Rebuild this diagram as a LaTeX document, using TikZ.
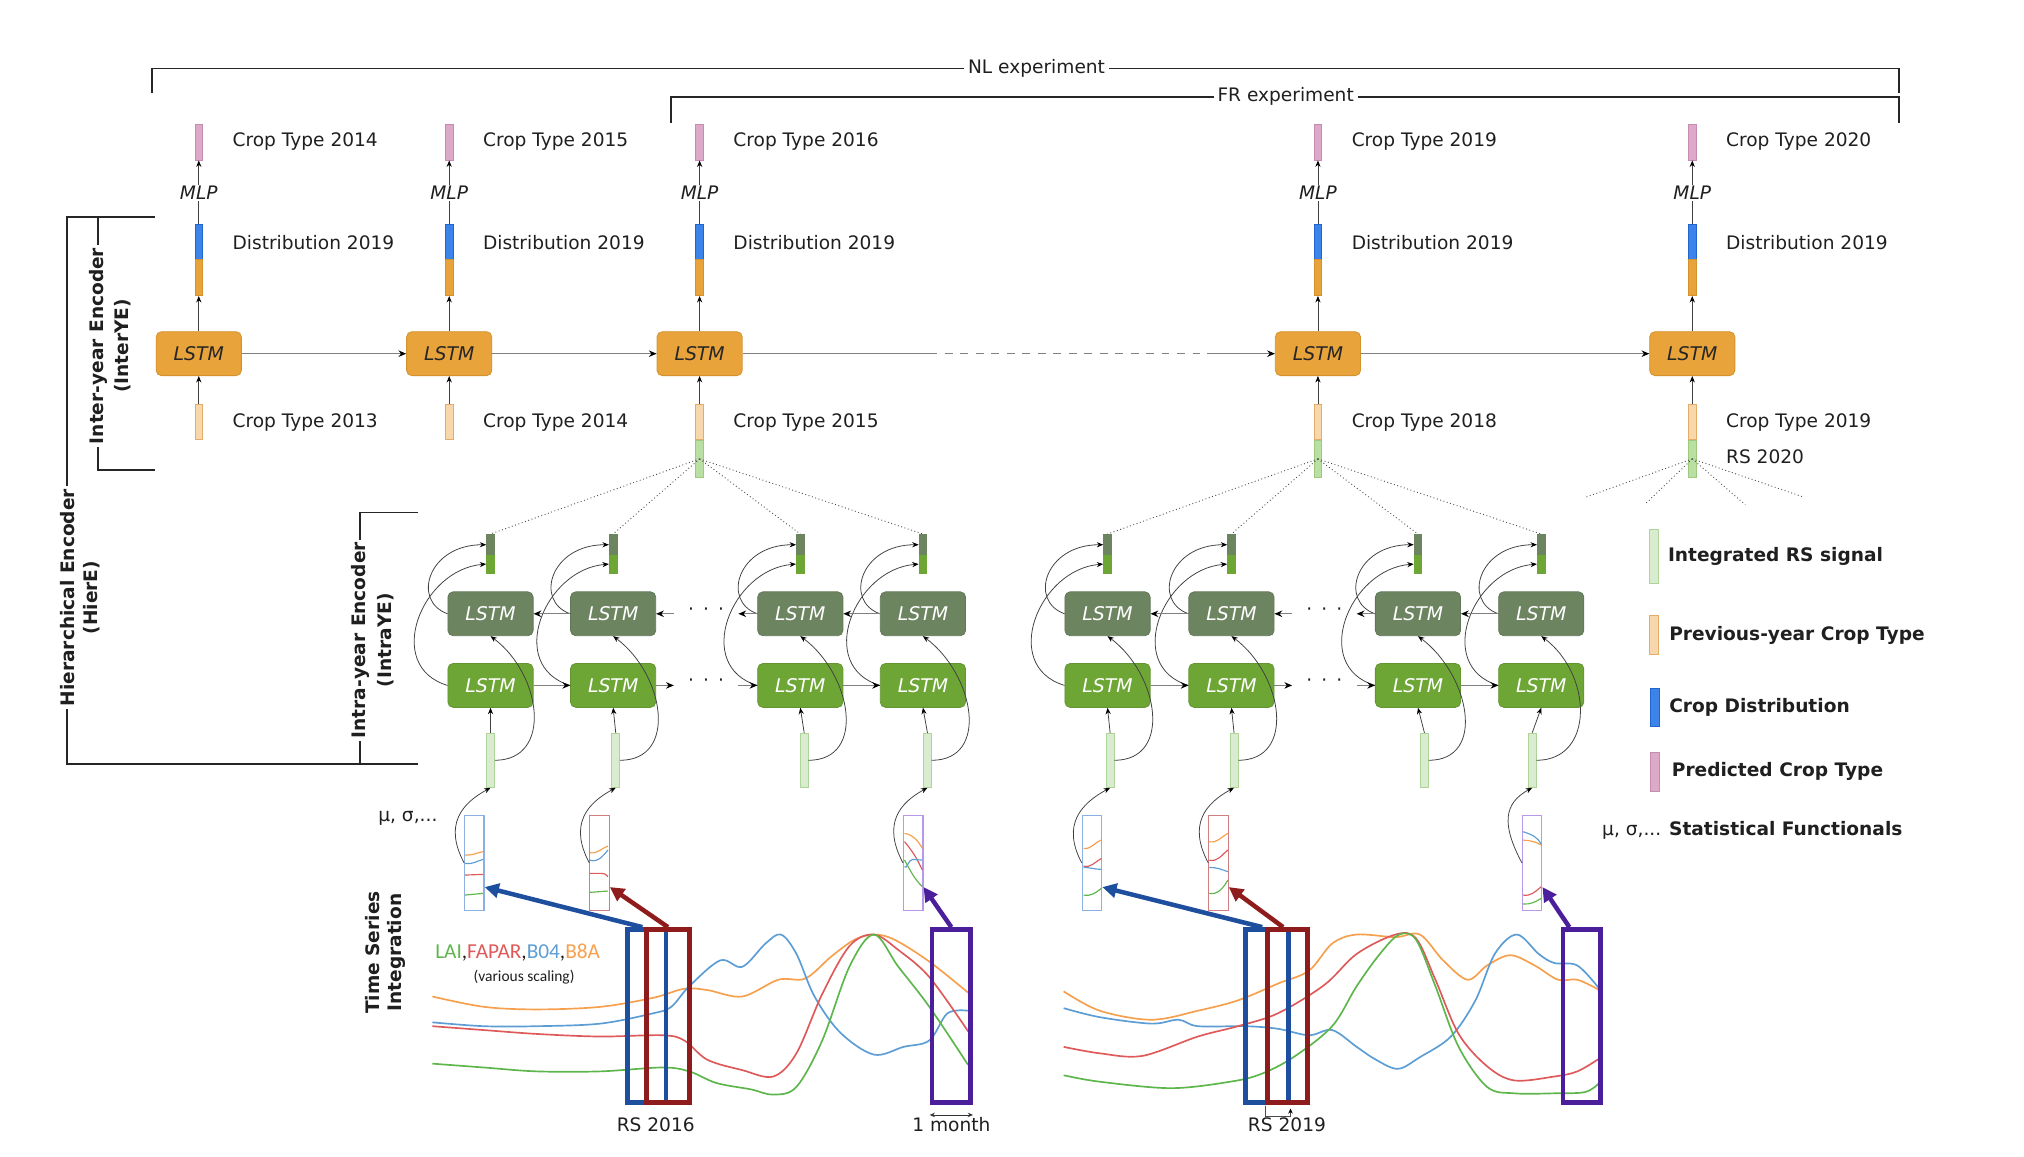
\documentclass[tikz,border=0pt]{standalone}
\usepackage{fontspec}
\setmainfont{DejaVu Sans}
\newfontfamily\calibfont{Carlito}
\usetikzlibrary{arrows.meta,calc}
\definecolor{lorange}{HTML}{E8A33B}
\definecolor{lorangeD}{HTML}{D4922E}
\definecolor{pinkF}{HTML}{DDA9C8}
\definecolor{pinkD}{HTML}{C58BB0}
\definecolor{blueF}{HTML}{3D84EA}
\definecolor{blueD}{HTML}{2563CF}
\definecolor{paleoF}{HTML}{F8D7AC}
\definecolor{paleoD}{HTML}{E5AC69}
\definecolor{rsF}{HTML}{BADFA3}
\definecolor{rsD}{HTML}{9CCB80}
\definecolor{inF}{HTML}{D9ECCF}
\definecolor{inD}{HTML}{AED49A}
\definecolor{dkg}{HTML}{6D8461}
\definecolor{brg}{HTML}{6EA636}
\definecolor{cO}{HTML}{F6A04D}
\definecolor{cB}{HTML}{5C9DD5}
\definecolor{cR}{HTML}{DE5A5A}
\definecolor{cG}{HTML}{5DB64C}
\definecolor{tB}{HTML}{1E4E9E}
\definecolor{tR}{HTML}{8E1C1C}
\definecolor{tP}{HTML}{4B1F9C}
\definecolor{sB}{HTML}{8CB0E2}
\definecolor{sR}{HTML}{D27E7E}
\definecolor{sP}{HTML}{B898E8}
\begin{document}
\begin{tikzpicture}[x=1pt,y=-1pt,
  every node/.style={inner sep=0pt, font=\fontsize{14.4}{17}\selectfont, text=black!88},
  bar/.style={rectangle, minimum width=6pt, line width=0.6pt},
  pinkbar/.style={bar, fill=pinkF, draw=pinkD, minimum height=28pt},
  bluebar/.style={bar, fill=blueF, draw=blueD, minimum height=27pt},
  orbar/.style={bar, fill=lorange, draw=lorangeD, minimum height=28pt},
  palebar/.style={bar, fill=paleoF, draw=paleoD, minimum height=27pt},
  rsbar/.style={bar, fill=rsF, draw=rsD, minimum height=29pt},
  inbar/.style={bar, fill=inF, draw=inD, minimum height=42pt},
  otop/.style={bar, fill=dkg, draw=dkg, minimum height=16pt},
  obot/.style={bar, fill=brg, draw=brg, minimum height=14pt},
  lstmbox/.style={rectangle, rounded corners=4pt, minimum width=66pt, minimum height=34pt, font=\fontsize{14.6}{17}\selectfont\itshape, line width=0.6pt},
  lstmO/.style={lstmbox, fill=lorange, draw=lorangeD, text=black!85},
  lstmD/.style={lstmbox, fill=dkg, draw=dkg!90!black, text=white},
  lstmG/.style={lstmbox, fill=brg, draw=brg!90!black, text=white},
  arr/.style={draw=black!75, line width=0.6pt, -{Stealth[length=5pt,width=4pt,color=black]}},
  harr/.style={draw=black!50, line width=1.1pt, -{Stealth[length=6pt,width=5pt,color=black]}},
  gline/.style={draw=black!50, line width=1.1pt},
  fan/.style={draw=black!70, line width=0.7pt, dotted},
  lbl/.style={anchor=west},
  blbl/.style={anchor=west, font=\fontsize{14.4}{17}\selectfont\bfseries},
  brk/.style={draw=black!85, line width=1.3pt},
  vlab/.style={rotate=90, font=\fontsize{14.4}{17}\selectfont\bfseries},
  statr/.style={rectangle, minimum width=15pt, minimum height=74pt, line width=0.9pt},
  bigr/.style={rectangle, minimum height=134pt, line width=3.5pt},
  tarr/.style={line width=3.5pt, -{Triangle[length=11pt,width=11pt]}},
  ts/.style={line width=1.3pt},
  mini/.style={line width=0.9pt},
]
\useasboundingbox (0,0) rectangle (1568,896);

% ---------- experiment brackets ----------
\draw[brk] (118,72) -- (118,53) -- (1471,53) -- (1471,72);
\node[fill=white, inner sep=3pt] (nl) at (803,53) {NL experiment};
\draw[brk] (520,95) -- (520,75) -- (1471,75) -- (1471,95);
\node[fill=white, inner sep=3pt] (fr) at (996,75) {FR experiment};

% ---------- left brackets ----------
\draw[brk] (120,168) -- (52,168) -- (52,592) -- (324,592);
\draw[brk] (76,168) -- (76,364) -- (120,364);
\draw[brk] (324,397) -- (279,397) -- (279,592);
\node[vlab, fill=white, inner sep=2pt] (hl1) at (52,463) {Hierarchical Encoder};
\node[vlab] (hl2) at (71,463) {(HierE)};
\node[vlab, fill=white, inner sep=2pt] (il1) at (76,268) {Inter-year Encoder};
\node[vlab] (il2) at (95,268) {(InterYE)};
\node[vlab, fill=white, inner sep=2pt] (al1) at (279,496) {Intra-year Encoder};
\node[vlab] (al2) at (299,496) {(IntraYE)};
\node[vlab] (ts1) at (289,738) {Time Series};
\node[vlab] (ts2) at (307,738) {Integration};

% ---------- inter-year encoder ----------
\foreach \i/\x/\t/\b in {1/154/2014/2013,2/348/2015/2014,3/542/2016/2015,4/1021/2019/2018,5/1311/2020/2019}{
  \node[pinkbar] (pk\i) at (\x,110) {};
  \node[font=\fontsize{14.4}{17}\selectfont\itshape, inner sep=1pt] (mlp\i) at (\x,149.5) {MLP};
  \node[bluebar] (bl\i) at (\x,187.5) {};
  \node[orbar] (or\i) at (\x,215) {};
  \node[lstmO] (L\i) at (\x,274) {LSTM};
  \node[palebar] (po\i) at (\x,327) {};
  \node[lbl] (tt\i) at (\x+26,110) {Crop Type \t};
  \node[lbl] (dt\i) at (\x+26,188) {Distribution 2019};
  \node[lbl] (bt\i) at (\x+26,327) {Crop Type \b};
  \draw[arr] (mlp\i.north) -- (pk\i.south);
  \draw[draw=black!75, line width=0.6pt] (bl\i.north) -- (mlp\i.south);
  \draw[arr] (L\i.north) -- (or\i.south);
  \draw[arr] (po\i.north) -- (L\i.south);
}
\foreach \i/\x in {3/542,4/1021,5/1311}{
  \node[rsbar] (gr\i) at (\x,355.5) {};
}
\node[lbl] (rs20) at (1337,354) {RS 2020};
\draw[harr] (L1) -- (L2);
\draw[harr] (L2) -- (L3);
\draw[harr] (L4) -- (L5);
\coordinate (d1) at (720,274);
\coordinate (d2) at (935,274);
\draw[gline] (L3.east) -- (d1);
\draw[gline, dashed, dash pattern=on 6pt off 6pt] (d1) -- (d2);
\draw[harr] (d2) -- (L4.west);

% ---------- intra-year encoder ----------
\foreach \g/\j/\cx/\ix in {a/1/380/380, a/2/475/477, a/3/620/623, a/4/715/718.5, b/1/858/860, b/2/954/956, b/3/1098.5/1103.5, b/4/1194/1187}{
  \node[otop] (ot\g\j) at (\cx,422) {};
  \node[obot] (ob\g\j) at (\cx,437) {};
  \node[lstmD] (D\g\j) at (\cx,475.5) {LSTM};
  \node[lstmG] (F\g\j) at (\cx,531) {LSTM};
  \node[inbar] (in\g\j) at (\ix,589) {};
}
\foreach \g/\j in {a/1,a/2,a/3,a/4,b/1,b/2,b/3,b/4}{
  \draw[arr] (in\g\j.north) -- (F\g\j.south);
  \draw[arr] (D\g\j.west) .. controls +(-28,-10) and +(-45,0) .. (ot\g\j.west);
  \draw[arr] (F\g\j.west) .. controls +(-50,-15) and +(-50,4) .. (ob\g\j.west);
  \draw[arr] (in\g\j.east) .. controls +(45,0) and +(40,30) .. (D\g\j.south);
}
\foreach \g/\p/\q/\m in {a/522/572/547, b/1001/1051/1026}{
  \coordinate (fg1\g) at (\p,531);
  \coordinate (fg2\g) at (\q,531);
  \coordinate (bg1\g) at (\p,475.5);
  \coordinate (bg2\g) at (\q,475.5);
  \node (fd\g) at (\m,529) {·\hspace{7pt}·\hspace{7pt}·};
  \node (bd\g) at (\m,473.5) {·\hspace{7pt}·\hspace{7pt}·};
  \draw[harr] (F\g1) -- (F\g2);
  \draw[harr] (F\g3) -- (F\g4);
  \draw[harr] (F\g2.east) -- (fg1\g);
  \draw[harr] (fg2\g) -- (F\g3.west);
  \draw[harr] (D\g2) -- (D\g1);
  \draw[harr] (D\g4) -- (D\g3);
  \draw[harr] (D\g3.west) -- (bg2\g);
  \draw[harr] (bg1\g) -- (D\g2.east);
}
% fans
\foreach \j in {1,2,3,4}{
  \draw[fan] (gr3.center) -- (ota\j.north);
  \draw[fan] (gr4.center) -- (otb\j.north);
}
\coordinate (f5a) at (1229,385);
\coordinate (f5b) at (1274,391);
\coordinate (f5c) at (1352,391);
\coordinate (f5d) at (1397,385);
\foreach \k in {a,b,c,d}{ \draw[fan] (gr5.center) -- (f5\k); }

% ---------- statistical functionals ----------
\foreach \g/\j/\sx/\col in {a/1/367.5/sB, a/2/464.5/sR, a/4/707.5/sP, b/1/846/sB, b/2/944/sR, b/4/1187/sP}{
  \node[statr, draw=\col] (S\g\j) at (\sx,668.5) {};
  \draw[arr] (S\g\j.west) .. controls +(-16,-30) and +(-22,12) .. (in\g\j.south);
}
\node (mu) at (316,634) {μ, σ,...};
% mini curves
\draw[mini,cO] (360.3,662.4) to[out=-5,in=190] (374.2,659.8);
\draw[mini,cB] (360.3,668.9) to[out=-10,in=195] (374.2,665.8);
\draw[mini,cR] (360.3,677.9) -- (374.2,677.4);
\draw[mini,cG] (360.3,693.4) -- (374.2,692.1);
\draw[mini,cO] (457,660.6) to[out=-10,in=200] (471,655.4);
\draw[mini,cB] (457,666.3) to[out=-20,in=230] (471,658.5);
\draw[mini,cR] (457,676.6) -- (466,676.6) to[out=0,in=120] (471,679.2);
\draw[mini,cG] (457,691.3) -- (471,690.3);
\draw[mini,cO] (700.7,645.6) to[out=-10,in=120] (714.5,657.2);
\draw[mini,cR] (700.7,652) to[out=-50,in=115] (714.5,674);
\draw[mini,cB] (700.7,671.4) to[out=-60,in=180] (707,665.8) -- (714.5,666.3);
\draw[mini,cG] (700.7,666.3) to[out=-60,in=135] (714.5,686.9);
\draw[mini,cO] (839.4,657.2) to[out=-10,in=200] (853.2,650.8);
\draw[mini,cR] (839.4,670.9) to[out=-15,in=210] (853.2,665);
\draw[mini,cB] (839.4,672) to[out=0,in=180] (853.2,673.5);
\draw[mini,cG] (839.4,693.4) to[out=-10,in=220] (853.2,688.2);
\draw[mini,cO] (936.8,652.1) to[out=-10,in=210] (951.2,645.6);
\draw[mini,cR] (936.8,666.3) to[out=-15,in=220] (951.2,658.5);
\draw[mini,cB] (936.8,672) to[out=0,in=160] (951.2,675.3);
\draw[mini,cG] (936.8,692.1) to[out=-10,in=240] (951.2,681.8);
\draw[mini,cB] (1180,644.3) to[out=-20,in=110] (1194,654.6);
\draw[mini,cO] (1180,650.8) to[out=-5,in=150] (1194,654.6);
\draw[mini,cR] (1180,693.4) to[out=-10,in=220] (1194,686.9);
\draw[mini,cG] (1180,700.3) to[out=-5,in=210] (1194,696);

% ---------- time series ----------
\draw[ts,cO] plot[smooth,tension=0.55] coordinates {(335,772) (375,780) (416,782) (465,780) (506,773) (530,766) (548,767) (575,772) (603,759) (624,758) (644,741) (662,728) (677,724) (693,728) (720,745) (750,769)};
\draw[ts,cB] plot[smooth,tension=0.55] coordinates {(335,792) (375,795) (416,795) (465,793) (506,785) (520,780) (534,764) (558,744) (575,749) (593,731) (605,724) (617,739) (631,772) (651,800) (677,817) (700,811) (720,806) (734,785) (750,783)};
\draw[ts,cR] plot[smooth,tension=0.55] coordinates {(335,795) (375,798) (416,801) (465,803) (513,802) (530,806) (548,821) (575,829) (599,834) (617,816) (637,770) (658,733) (677,724) (696,736) (720,757) (750,799)};
\draw[ts,cG] plot[smooth,tension=0.55] coordinates {(335,824) (375,827) (416,830) (465,830) (513,827) (534,830) (555,839) (582,844) (599,848) (617,842) (637,806) (658,749) (677,724) (696,749) (720,780) (750,825)};
\draw[ts,cO] plot[smooth,tension=0.55] coordinates {(824,768) (852,783) (892,790) (928,783) (959,775) (990,762) (1014,752) (1032,731) (1051,724) (1081,726) (1100,724) (1118,744) (1137,759) (1152,748) (1170,740) (1189,748) (1207,759) (1222,759) (1239,767)};
\draw[ts,cB] plot[smooth,tension=0.55] coordinates {(824,781) (852,788) (892,793) (913,790) (928,795) (965,795) (990,797) (1014,802) (1032,798) (1051,811) (1066,821) (1083,828) (1100,819) (1124,803) (1143,775) (1158,739) (1175,724) (1192,739) (1204,746) (1222,748) (1239,766)};
\draw[ts,cR] plot[smooth,tension=0.55] coordinates {(824,811) (852,816) (885,818) (928,803) (959,795) (990,785) (1026,763) (1051,739) (1081,724) (1097,727) (1112,759) (1130,801) (1152,826) (1173,837) (1204,834) (1222,830) (1239,820)};
\draw[ts,cG] plot[smooth,tension=0.55] coordinates {(824,833) (852,838) (907,843) (953,838) (977,832) (1002,819) (1032,795) (1051,764) (1069,739) (1084,724) (1097,728) (1112,764) (1130,811) (1152,842) (1173,847) (1204,847) (1228,846) (1239,839)};

\node[anchor=west, font=\calibfont\fontsize{16.5}{19}\selectfont] (leg) at (337,738) {\textcolor{cG}{LAI},\textcolor{cR}{FAPAR},\textcolor{cB}{B04},\textcolor{cO}{B8A}};
\node[font=\calibfont\fontsize{12}{14}\selectfont] (vs) at (406,757) {(various scaling)};

% big windows
\node[bigr, draw=tB, minimum width=30pt] (BBa) at (501,787) {};
\node[bigr, draw=tR, minimum width=33pt] (RBa) at (517.5,787) {};
\node[bigr, draw=tP, minimum width=30pt] (PBa) at (737,787) {};
\node[bigr, draw=tB, minimum width=33pt] (BBb) at (981.5,787) {};
\node[bigr, draw=tR, minimum width=31pt] (RBb) at (997.5,787) {};
\node[bigr, draw=tP, minimum width=29pt] (PBb) at (1225.5,787) {};

\draw[tarr,tB] ($(BBa.north west)!0.4!(BBa.north east)$) -- ($(Sa1.south east)!0.25!(Sa1.north east)$);
\draw[tarr,tR] (RBa.north) -- ($(Sa2.south east)!0.25!(Sa2.north east)$);
\draw[tarr,tP] (PBa.north) -- ($(Sa4.south east)!0.25!(Sa4.north east)$);
\draw[tarr,tB] ($(BBb.north west)!0.4!(BBb.north east)$) -- ($(Sb1.south east)!0.25!(Sb1.north east)$);
\draw[tarr,tR] ($(RBb.north west)!0.4!(RBb.north east)$) -- ($(Sb2.south east)!0.25!(Sb2.north east)$);
\draw[tarr,tP] ($(PBb.north west)!0.2!(PBb.north east)$) -- ($(Sb4.south east)!0.25!(Sb4.north east)$);

% labels below
\coordinate (m1) at ($(PBa.south west)+(0,8)$);
\coordinate (m2) at ($(PBa.south east)+(0,8)$);
\draw[draw=black!80, line width=0.6pt, {Stealth[length=4pt,width=3.5pt]}-{Stealth[length=4pt,width=3.5pt]}] (m1) -- (m2);
\coordinate (r1) at ($(RBb.south west)+(0,1)$);
\coordinate (r2) at ($(RBb.south west)+(0,9)$);
\coordinate (r3) at ($(BBb.south east)+(0,3)$);
\draw[draw=black!70, line width=0.6pt, -{Stealth[length=4pt,width=3.5pt,color=black]}] (r1) -- (r2) -| (r3);
\node (rs16) at (508,871) {RS 2016};
\node (mon) at (737,871) {1 month};
\node (rs19) at (997,871) {RS 2019};

% ---------- legend ----------
\node[bar, fill=inF, draw=inD, minimum width=7pt, minimum height=42pt] (lg1) at (1281,431) {};
\node[blbl] (lt1) at (1292,431) {Integrated RS signal};
\node[bar, fill=paleoF, draw=paleoD, minimum width=7pt, minimum height=30pt] (lg2) at (1281,492) {};
\node[blbl] (lt2) at (1293,492) {Previous-year Crop Type};
\node[bar, fill=blueF, draw=blueD, minimum width=7pt, minimum height=30pt] (lg3) at (1282,548) {};
\node[blbl] (lt3) at (1293,548) {Crop Distribution};
\node[bar, fill=pinkF, draw=pinkD, minimum width=7pt, minimum height=30pt] (lg4) at (1282,598) {};
\node[blbl] (lt4) at (1295,598) {Predicted Crop Type};
\node[lbl] (lt5) at (1241,643) {μ, σ,... \textbf{Statistical Functionals}};
\end{tikzpicture}
\end{document}
